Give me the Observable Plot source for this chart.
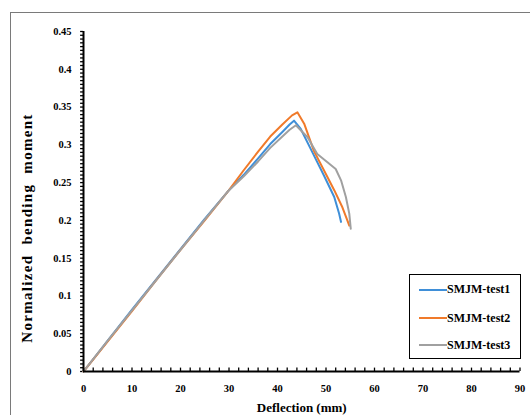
<!DOCTYPE html>
<html>
<head>
<meta charset="utf-8">
<script src="https://cdn.jsdelivr.net/npm/d3@7"></script>
<script src="https://cdn.jsdelivr.net/npm/@observablehq/plot@0.6"></script>
<style>
  body { margin: 0; background: #fff; }
  #wrap { position: relative; width: 530px; height: 415px; overflow: hidden; font-family: "Liberation Serif", "Times New Roman", serif; }
  #frame { position: absolute; left: 10px; top: 12px; width: 600px; height: 500px; border: 1.5px solid #7a7a7a; box-sizing: border-box; }
  #chart { position: absolute; left: 0; top: 0; }
  #ytitle { position: absolute; left: 27px; top: 228px; transform: translate(-50%, -50%) rotate(-90deg); font-weight: bold; font-size: 15px; letter-spacing: 1.3px; white-space: pre; color: #000; line-height: 1; }
  #legend { position: absolute; left: 409px; top: 274px; width: 112px; height: 85px; border: 1.5px solid #000; background: #fff; box-sizing: border-box; }
  .row { position: absolute; left: 0; height: 20px; display: flex; align-items: center; }
  .sw { width: 28px; height: 2px; margin-left: 9px; }
  .lab { font-weight: bold; font-size: 12px; color: #000; white-space: nowrap; }
</style>
</head>
<body>
<div id="wrap">
  <div id="frame"></div>
  <div id="chart"></div>
  <div id="ytitle"></div>
  <div id="legend"></div>
</div>
<script>
// ---- data ----
const seriesNames = ["SMJM-test1", "SMJM-test2", "SMJM-test3"];
const seriesColors = ["#3f8fd8", "#f07a2a", "#a0a0a0"];

const deflection1 = [0, 5, 10, 15, 20, 25, 30, 33, 36, 38.5, 41, 42.5, 43.4, 44.8, 47.2, 49.6, 51.7, 52.7, 53.1];
const moment1     = [0, 0.041, 0.082, 0.122, 0.162, 0.202, 0.24, 0.26, 0.282, 0.301, 0.317, 0.327, 0.332, 0.321, 0.29, 0.259, 0.231, 0.209, 0.198];

const deflection2 = [0, 5, 10, 15, 20, 25, 30, 33, 36, 38.5, 41, 43, 44.1, 45.5, 47.5, 49.6, 51.7, 53.4, 54.4, 54.8];
const moment2     = [0, 0.04, 0.08, 0.121, 0.161, 0.2, 0.24, 0.266, 0.291, 0.311, 0.327, 0.339, 0.343, 0.328, 0.292, 0.266, 0.24, 0.217, 0.2, 0.193];

const deflection3 = [0, 5, 10, 15, 20, 25, 30, 33, 36, 38.5, 41, 42.5, 43.8, 46.2, 48.2, 50.3, 52, 53.1, 54.1, 54.8, 55.1];
const moment3     = [0, 0.041, 0.081, 0.121, 0.161, 0.201, 0.24, 0.258, 0.278, 0.296, 0.311, 0.32, 0.326, 0.31, 0.288, 0.277, 0.268, 0.253, 0.231, 0.209, 0.189];

const xTickValues = [0, 10, 20, 30, 40, 50, 60, 70, 80, 90];
const yTickValues = [0, 0.05, 0.1, 0.15, 0.2, 0.25, 0.3, 0.35, 0.4, 0.45];
const xMinorTicks = d3.range(0, 91, 2);
const yMinorTicks = d3.range(0, 91).map(i => +(i * 0.005).toFixed(3));

const xTitle = "Deflection (mm)";
const yTitle = "Normalized  bending  moment";

// ---- build table ----
const table = [];
[[deflection1, moment1], [deflection2, moment2], [deflection3, moment3]].forEach(([xs, ys], i) => {
  xs.forEach((x, j) => table.push({series: seriesNames[i], x, y: ys[j]}));
});

const chart = Plot.plot({
  width: 530,
  height: 415,
  marginLeft: 83,
  marginRight: 10.5,
  marginTop: 31,
  marginBottom: 44,
  x: {domain: [0, 90]},
  y: {domain: [0, 0.45]},
  color: {domain: seriesNames, range: seriesColors},
  style: {fontFamily: "'Liberation Serif', 'Times New Roman', serif", fontWeight: "bold", fontSize: "10.5px", color: "#000", background: "transparent"},
  marks: [
    Plot.ruleX(xMinorTicks, {x: d => d, y1: 0, y2: 0.0045, stroke: "#000", strokeWidth: 1.3}),
    Plot.ruleY(yMinorTicks, {y: d => d, x1: -0.6, x2: 0, stroke: "#000", strokeWidth: 1.3}),
    Plot.line(table, {x: "x", y: "y", z: "series", stroke: "series", strokeWidth: 2, strokeLinejoin: "round"}),
    Plot.ruleY([0], {stroke: "#000", strokeWidth: 2}),
    Plot.ruleX([0], {stroke: "#000", strokeWidth: 2}),
    Plot.axisX({ticks: xTickValues, tickSize: 0, tickPadding: 13, label: null}),
    Plot.axisY({ticks: yTickValues, tickSize: 0, tickPadding: 12, label: null, tickFormat: d => String(+d.toFixed(2))}),
    Plot.text([xTitle], {text: d => d, frameAnchor: "bottom", dy: 36, fontSize: 13, fontWeight: "bold", lineAnchor: "middle"})
  ]
});
document.getElementById("chart").appendChild(chart);
document.getElementById("ytitle").textContent = yTitle;

// ---- legend ----
const legend = document.getElementById("legend");
const rowTops = [4.5, 33, 60];
seriesNames.forEach((name, i) => {
  const row = document.createElement("div");
  row.className = "row";
  row.style.top = rowTops[i] + "px";
  const sw = document.createElement("div");
  sw.className = "sw";
  sw.style.background = seriesColors[i];
  const lab = document.createElement("span");
  lab.className = "lab";
  lab.textContent = name;
  row.appendChild(sw);
  row.appendChild(lab);
  legend.appendChild(row);
});
</script>
</body>
</html>
